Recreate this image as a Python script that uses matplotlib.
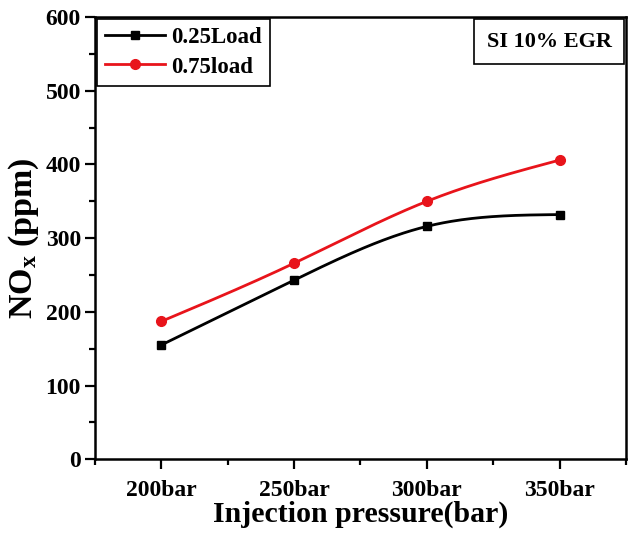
import numpy as np
import matplotlib
matplotlib.use("Agg")
from matplotlib import pyplot as plt
from matplotlib.offsetbox import AnchoredText
from matplotlib.ticker import MultipleLocator

pressures = ["200bar", "250bar", "300bar", "350bar"]
load_025 = [155, 243, 316, 332]
load_075 = [187, 266, 350, 406]


def spline(xs, ys, n=200):
    # natural cubic spline, just for the smooth connecting line
    xs = np.asarray(xs, float)
    ys = np.asarray(ys, float)
    k = len(xs)
    h = np.diff(xs)
    A = np.zeros((k, k))
    b = np.zeros(k)
    A[0, 0] = A[-1, -1] = 1
    for i in range(1, k - 1):
        A[i, i - 1] = h[i - 1]
        A[i, i] = 2 * (h[i - 1] + h[i])
        A[i, i + 1] = h[i]
        b[i] = 3 * ((ys[i + 1] - ys[i]) / h[i] - (ys[i] - ys[i - 1]) / h[i - 1])
    c = np.linalg.solve(A, b)
    xx = np.linspace(xs[0], xs[-1], n)
    idx = np.clip(np.searchsorted(xs, xx) - 1, 0, k - 2)
    dx = xx - xs[idx]
    bb = (ys[1:] - ys[:-1]) / h - h * (2 * c[:-1] + c[1:]) / 3
    dd = (c[1:] - c[:-1]) / (3 * h)
    yy = ys[idx] + bb[idx] * dx + c[idx] * dx ** 2 + dd[idx] * dx ** 3
    return xx, yy


plt.rcParams['font.family'] = 'Liberation Serif'
plt.rcParams['font.weight'] = 'bold'
plt.rcParams['mathtext.fontset'] = 'custom'
plt.rcParams['mathtext.rm'] = 'Liberation Serif:bold'
plt.rcParams['mathtext.it'] = 'Liberation Serif:italic:bold'
plt.rcParams['mathtext.bf'] = 'Liberation Serif:bold'

fig = plt.figure(figsize=(6.28, 5.34), dpi=100)
ax = fig.add_axes([0.151, 0.140, 0.846, 0.828])

x = np.arange(len(pressures))
for vals, col, mk, ms, lab in [(load_025, "black", "s", 6, "0.25Load"),
                               (load_075, "#e8141b", "o", 7, "0.75load")]:
    sx, sy = spline(x, vals)
    ax.plot(sx, sy, color=col, lw=2.0)
    ax.plot(x, vals, ls="none", marker=mk, ms=ms, color=col)
    ax.plot([], [], color=col, lw=2.0, marker=mk, ms=ms, label=lab)

ax.set_xlim(-0.5, 3.5)
ax.set_ylim(0, 600)
ax.set_xticks(x)
ax.set_xticklabels(pressures)
ax.xaxis.set_minor_locator(MultipleLocator(0.5))
ax.yaxis.set_major_locator(MultipleLocator(100))
ax.yaxis.set_minor_locator(MultipleLocator(50))
ax.tick_params(which="major", length=7, width=1.6, labelsize=17, pad=3)
ax.tick_params(which="minor", length=4, width=1.6)
ax.tick_params(axis="x", which="major", pad=8)
for s in ax.spines.values():
    s.set_linewidth(1.8)

ax.set_xlabel("Injection pressure(bar)", fontsize=21.5, weight="bold", labelpad=0)
ax.set_ylabel("NO$_\\mathregular{x}$ (ppm)", fontsize=24.5, weight="bold", labelpad=3)

leg = ax.legend(loc="upper left", bbox_to_anchor=(0.0, 1.0), borderaxespad=0.1,
                fontsize=16.5, handlelength=2.6, fancybox=False, edgecolor="black",
                framealpha=1, borderpad=0.35, labelspacing=0.35, handletextpad=0.3)
leg.get_frame().set_linewidth(1.2)

at = AnchoredText("SI 10% EGR", loc="upper right", borderpad=0.1, pad=0.55,
                  prop=dict(size=16, weight="bold"), frameon=True)
at.patch.set_boxstyle("square,pad=0")
at.patch.set_linewidth(1.2)
ax.add_artist(at)

fig.savefig("out.png", dpi=100)
